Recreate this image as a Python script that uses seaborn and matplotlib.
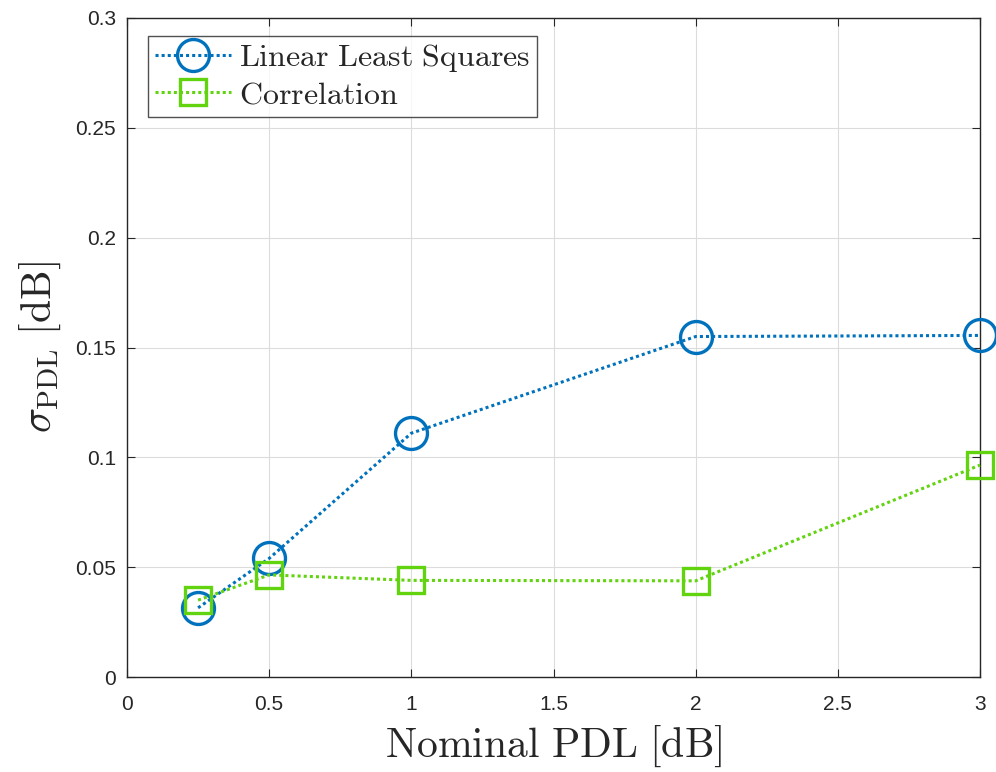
import matplotlib
matplotlib.use("Agg")
import matplotlib.pyplot as plt
import seaborn as sns
import pandas as pd

# Nominal PDL values and measured standard deviation of the PDL estimate
nominal_pdl = [0.25, 0.5, 1.0, 2.0, 3.0]
sigma_lls = [0.0315, 0.0540, 0.1110, 0.1550, 0.1555]
sigma_corr = [0.0350, 0.0465, 0.0440, 0.0438, 0.0965]
series_names = ["Linear Least Squares", "Correlation"]

x_ticks = [0, 0.5, 1, 1.5, 2, 2.5, 3]
x_tick_labels = ["0", "0.5", "1", "1.5", "2", "2.5", "3"]
y_ticks = [0, 0.05, 0.1, 0.15, 0.2, 0.25, 0.3]
y_tick_labels = ["0", "0.05", "0.1", "0.15", "0.2", "0.25", "0.3"]

df = pd.DataFrame({
    "pdl": nominal_pdl * 2,
    "sigma": sigma_lls + sigma_corr,
    "method": [series_names[0]] * len(nominal_pdl) + [series_names[1]] * len(nominal_pdl),
})

sns.set_theme(style="white")
plt.rcParams["font.family"] = ["Liberation Sans", "DejaVu Sans"]
plt.rcParams["mathtext.fontset"] = "cm"

fig = plt.figure(figsize=(9.96, 7.72), dpi=100)
ax = fig.add_axes([0.1275, 0.123, 0.8565, 0.8537])

palette = {series_names[0]: "#0072BD", series_names[1]: "#62D30F"}
markers = {series_names[0]: "o", series_names[1]: "s"}
sizes = {series_names[0]: 23, series_names[1]: 19}

for name in series_names:
    sub = df[df["method"] == name]
    sns.lineplot(data=sub, x="pdl", y="sigma", ax=ax, color=palette[name],
                 marker=markers[name], markersize=sizes[name],
                 markerfacecolor="none", markeredgecolor=palette[name],
                 markeredgewidth=2.4, linewidth=2.2, linestyle=(0, (1, 1)),
                 dash_capstyle="butt", label=name, clip_on=False, zorder=3)

ax.set_xlim(0, 3)
ax.set_ylim(0, 0.3)
ax.set_xticks(x_ticks)
ax.set_xticklabels(x_tick_labels)
ax.set_yticks(y_ticks)
ax.set_yticklabels(y_tick_labels)
ax.tick_params(direction="in", length=6, width=0.8, colors="#262626",
               labelsize=15, labelcolor="#262626", top=True, right=True,
               bottom=True, left=True)
ax.tick_params(axis="x", pad=13)
ax.tick_params(axis="y", pad=8)
ax.grid(True, color="#DCDCDC", linewidth=0.8)
for sp in ax.spines.values():
    sp.set_color("#262626")
    sp.set_linewidth(1.0)

ax.set_xlabel(r"$\mathrm{Nominal\ PDL\ [dB]}$", fontsize=30, labelpad=7)
ax.set_ylabel(r"$\sigma_{\mathrm{PDL}}\ \mathrm{[dB]}$", fontsize=30, labelpad=9)

leg = ax.legend(loc="upper left", bbox_to_anchor=(0.025, 0.973),
                prop={"size": 23}, frameon=True,
                fancybox=False, edgecolor="#262626", handlelength=2.4,
                handletextpad=0.25, borderpad=0.2, labelspacing=0.2,
                borderaxespad=0)
leg.get_frame().set_linewidth(1.0)
for t in leg.get_texts():
    t.set_text(r"$\mathrm{" + t.get_text().replace(" ", r"\ ") + "}$")

fig.savefig("out.png", dpi=100)
